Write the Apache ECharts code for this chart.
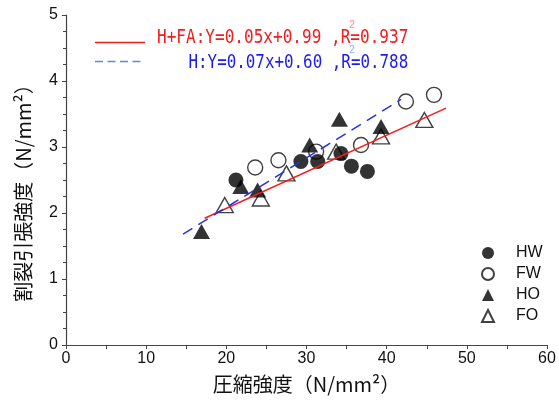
<!DOCTYPE html>
<html>
<head>
<meta charset="utf-8">
<script src="https://cdn.jsdelivr.net/npm/echarts@6/dist/echarts.min.js"></script>
<style>html,body{margin:0;padding:0;background:#fff;}#c{width:559px;height:405px;}</style>
</head>
<body>
<div id="c"></div>
<script>
// ---- data ----
var seriesNames = ['HW', 'FW', 'HO', 'FO'];
var HW = [[21.2, 2.50], [29.3, 2.78], [31.4, 2.78], [34.3, 2.90], [35.6, 2.71], [37.6, 2.63]];
var FW = [[23.6, 2.69], [26.5, 2.80], [31.2, 2.93], [36.8, 3.03], [42.4, 3.69], [45.9, 3.79]];
var HO = [[16.9, 1.72], [21.8, 2.40], [23.9, 2.35], [30.4, 3.03], [34.1, 3.42], [39.3, 3.31]];
var FO = [[19.8, 2.12], [24.3, 2.22], [27.5, 2.60], [33.7, 2.93], [39.3, 3.16], [44.7, 3.41]];
var fitHFA = [[17.3, 1.92], [47.4, 3.59]];   // H+FA regression line (drawn)
var fitH = [[14.6, 1.68], [41.8, 3.72]];     // H regression line (drawn)
var eqHFA = 'H+FA:Y=0.05x+0.99 ,R=0.937';
var eqH = 'H:Y=0.07x+0.60 ,R=0.788';
var xTitle = '圧縮強度（N/mm²）';
var yTitle = '割裂引張強度（N/mm²）';

var chart = echarts.init(document.getElementById('c'), null, {renderer: 'canvas'});
var narrow = "'Liberation Sans Narrow','Liberation Sans',Arial,sans-serif";
var cjk = "'Noto Sans CJK JP','Noto Sans',sans-serif";
var mono = "'DejaVu Sans Mono','Liberation Mono',monospace";

var filled = {color: '#000', borderColor: '#000', borderWidth: 0};
var hollow = {color: '#fff', borderColor: '#111', borderWidth: 1.4};

chart.setOption({
  animation: false,
  backgroundColor: '#fff',
  grid: {left: 66, right: 12, top: 15, bottom: 60, containLabel: false},
  legend: {
    data: seriesNames,
    orient: 'vertical',
    left: 481, top: 245,
    padding: 0,
    itemWidth: 12, itemHeight: 12,
    itemGap: 5,
    textStyle: {fontSize: 16, fontFamily: narrow, color: '#111', lineHeight: 16, padding: [0, 0, 0, 17]},
    selectedMode: false
  },
  xAxis: {
    type: 'value', min: 0, max: 60, interval: 10,
    axisLine: {lineStyle: {color: '#444', width: 1.2}},
    axisTick: {inside: false, length: 4, lineStyle: {color: '#444'}},
    minorTick: {show: true, splitNumber: 2, length: 4, lineStyle: {color: '#444'}},
    splitLine: {show: false},
    axisLabel: {fontSize: 16, fontFamily: narrow, color: '#111', margin: 6},
    name: xTitle, nameLocation: 'middle', nameGap: 29,
    nameTextStyle: {fontSize: 20, fontFamily: cjk, color: '#111'}
  },
  yAxis: {
    type: 'value', min: 0, max: 5, interval: 1,
    axisLine: {show: true, lineStyle: {color: '#444', width: 1.2}},
    axisTick: {show: true, inside: false, length: 4, lineStyle: {color: '#444'}},
    minorTick: {show: true, splitNumber: 4, length: 3, lineStyle: {color: '#444'}},
    splitLine: {show: false},
    axisLabel: {fontSize: 16, fontFamily: narrow, color: '#111', margin: 8},
    name: yTitle, nameLocation: 'middle', nameGap: 33, nameRotate: 90,
    nameTextStyle: {fontSize: 20, fontFamily: cjk, color: '#111', padding: [0, 16, 0, 0]}
  },
  series: [
    {name: 'FW', type: 'scatter', data: FW, symbol: 'circle', symbolSize: 15, itemStyle: hollow, z: 2},
    {name: 'FO', type: 'scatter', data: FO, symbol: 'triangle', symbolSize: [17, 15], itemStyle: hollow, z: 2},
    {name: 'HW', type: 'scatter', data: HW, symbol: 'circle', symbolSize: 15, itemStyle: filled, z: 3},
    {name: 'HO', type: 'scatter', data: HO, symbol: 'triangle', symbolSize: [17, 15], itemStyle: filled, z: 3},
    {name: 'fitHFA', type: 'line', data: fitHFA, symbol: 'none', z: 5,
     lineStyle: {color: '#f41c1c', width: 1.5}},
    {name: 'fitH', type: 'line', data: fitH, symbol: 'none', z: 5,
     lineStyle: {color: '#2430f0', width: 1.5, type: [11, 7]}}
  ],
  graphic: [
    {type: 'line', shape: {x1: 95, y1: 42.5, x2: 145, y2: 42.5}, style: {stroke: '#f41c1c', lineWidth: 1.5}},
    {type: 'line', shape: {x1: 95, y1: 61.5, x2: 145, y2: 61.5}, style: {stroke: '#5a8cd8', lineWidth: 1.5, lineDash: [8, 4.5]}},
    {type: 'text', x: 157, y: 38.5, scaleX: 0.845,
     style: {text: eqHFA, font: '19px ' + mono, fill: '#f41c1c', textAlign: 'left', textVerticalAlign: 'middle'}},
    {type: 'text', x: 188.5, y: 63, scaleX: 0.835,
     style: {text: eqH, font: '19px ' + mono, fill: '#1c1cf0', textAlign: 'left', textVerticalAlign: 'middle'}},
    {type: 'text', x: 352, y: 25, style: {text: '2', font: '10px ' + narrow, fill: '#ff8a8a', textAlign: 'center', textVerticalAlign: 'middle'}},
    {type: 'text', x: 352, y: 50, style: {text: '2', font: '10px ' + narrow, fill: '#86b4ee', textAlign: 'center', textVerticalAlign: 'middle'}}
  ]
});
</script>
</body>
</html>
